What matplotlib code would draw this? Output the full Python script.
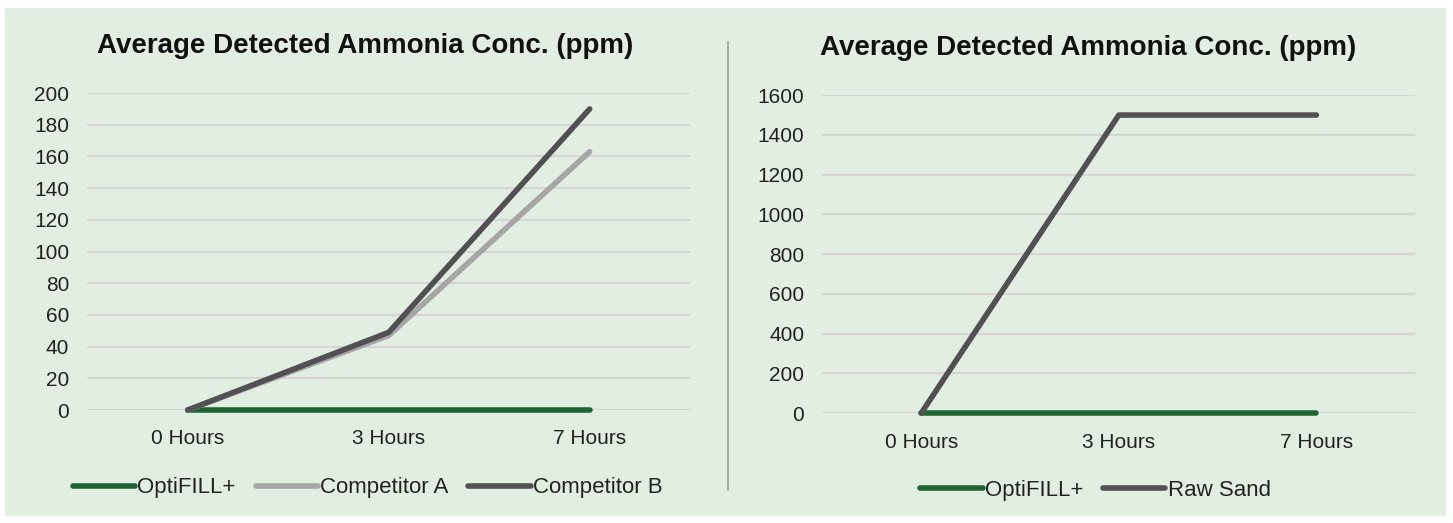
import matplotlib.pyplot as plt
from matplotlib.lines import Line2D

# Data
hours = ["0 Hours", "3 Hours", "7 Hours"]
optifill_left = [0, 0, 0]
competitor_a = [0, 47, 163]
competitor_b = [0, 49, 190]

optifill_right = [0, 0, 0]
raw_sand = [0, 1500, 1500]

title = "Average Detected Ammonia Conc. (ppm)"

green = "#1F6434"
light_grey = "#A6A6A6"
dark_grey = "#515153"
bg = "#E3EEE2"
grid_col = "#D6D6D6"

plt.rcParams['font.family'] = ['Liberation Sans', 'DejaVu Sans']

fig = plt.figure(figsize=(14.53, 5.23), dpi=100)
fig.patch.set_facecolor("white")

# green panel behind everything
panel = plt.Rectangle((5 / 1453, 8 / 523), 1 - 13 / 1453, 1 - 16 / 523,
                      transform=fig.transFigure, color=bg, zorder=-10)
fig.add_artist(panel)

ax1 = fig.add_axes([0.060, 0.216, 0.415, 0.606])
ax2 = fig.add_axes([0.566, 0.210, 0.408, 0.608])

x = range(len(hours))

def style(ax, ymax, step):
    ax.set_facecolor("none")
    ax.set_xlim(-0.5, 2.5)
    ax.set_ylim(0, ymax)
    ax.set_yticks(range(0, ymax + 1, step))
    ax.set_xticks(list(x))
    ax.set_xticklabels(hours)
    for s in ax.spines.values():
        s.set_visible(False)
    ax.tick_params(length=0, labelsize=15, colors="#222222")
    ax.tick_params(axis='y', pad=13)
    ax.tick_params(axis='x', pad=14)
    ax.grid(axis='y', color=grid_col, linewidth=1.6)
    ax.set_axisbelow(True)

kw = dict(linewidth=4, solid_capstyle='round', clip_on=False)

ax1.plot(x, optifill_left, color=green, label="OptiFILL+", **kw)
ax1.plot(x, competitor_a, color=light_grey, label="Competitor A", **kw)
ax1.plot(x, competitor_b, color=dark_grey, label="Competitor B", **kw)
style(ax1, 200, 20)

ax2.plot(x, optifill_right, color=green, label="OptiFILL+", **kw)
ax2.plot(x, raw_sand, color=dark_grey, label="Raw Sand", **kw)
style(ax2, 1600, 200)

fig.text(0.251, 0.912, title, ha='center', va='center', fontsize=20,
         fontweight='bold', color="#111111")
fig.text(0.749, 0.909, title, ha='center', va='center', fontsize=20,
         fontweight='bold', color="#111111")

leg_kw = dict(loc='center', frameon=False, fontsize=16, handlelength=2.8,
              handletextpad=0.1, columnspacing=0.9, labelcolor="#222222")
ax1.legend(ncol=3, bbox_to_anchor=(0.253, 0.067), bbox_transform=fig.transFigure, **leg_kw)
ax2.legend(ncol=2, bbox_to_anchor=(0.754, 0.063), bbox_transform=fig.transFigure, **leg_kw)

# divider between the two charts
fig.add_artist(Line2D([728 / 1453, 728 / 1453], [1 - 42 / 523, 1 - 490 / 523],
                      transform=fig.transFigure, color="#A0A0A0", linewidth=1.2))

fig.savefig("out.png", dpi=100)
